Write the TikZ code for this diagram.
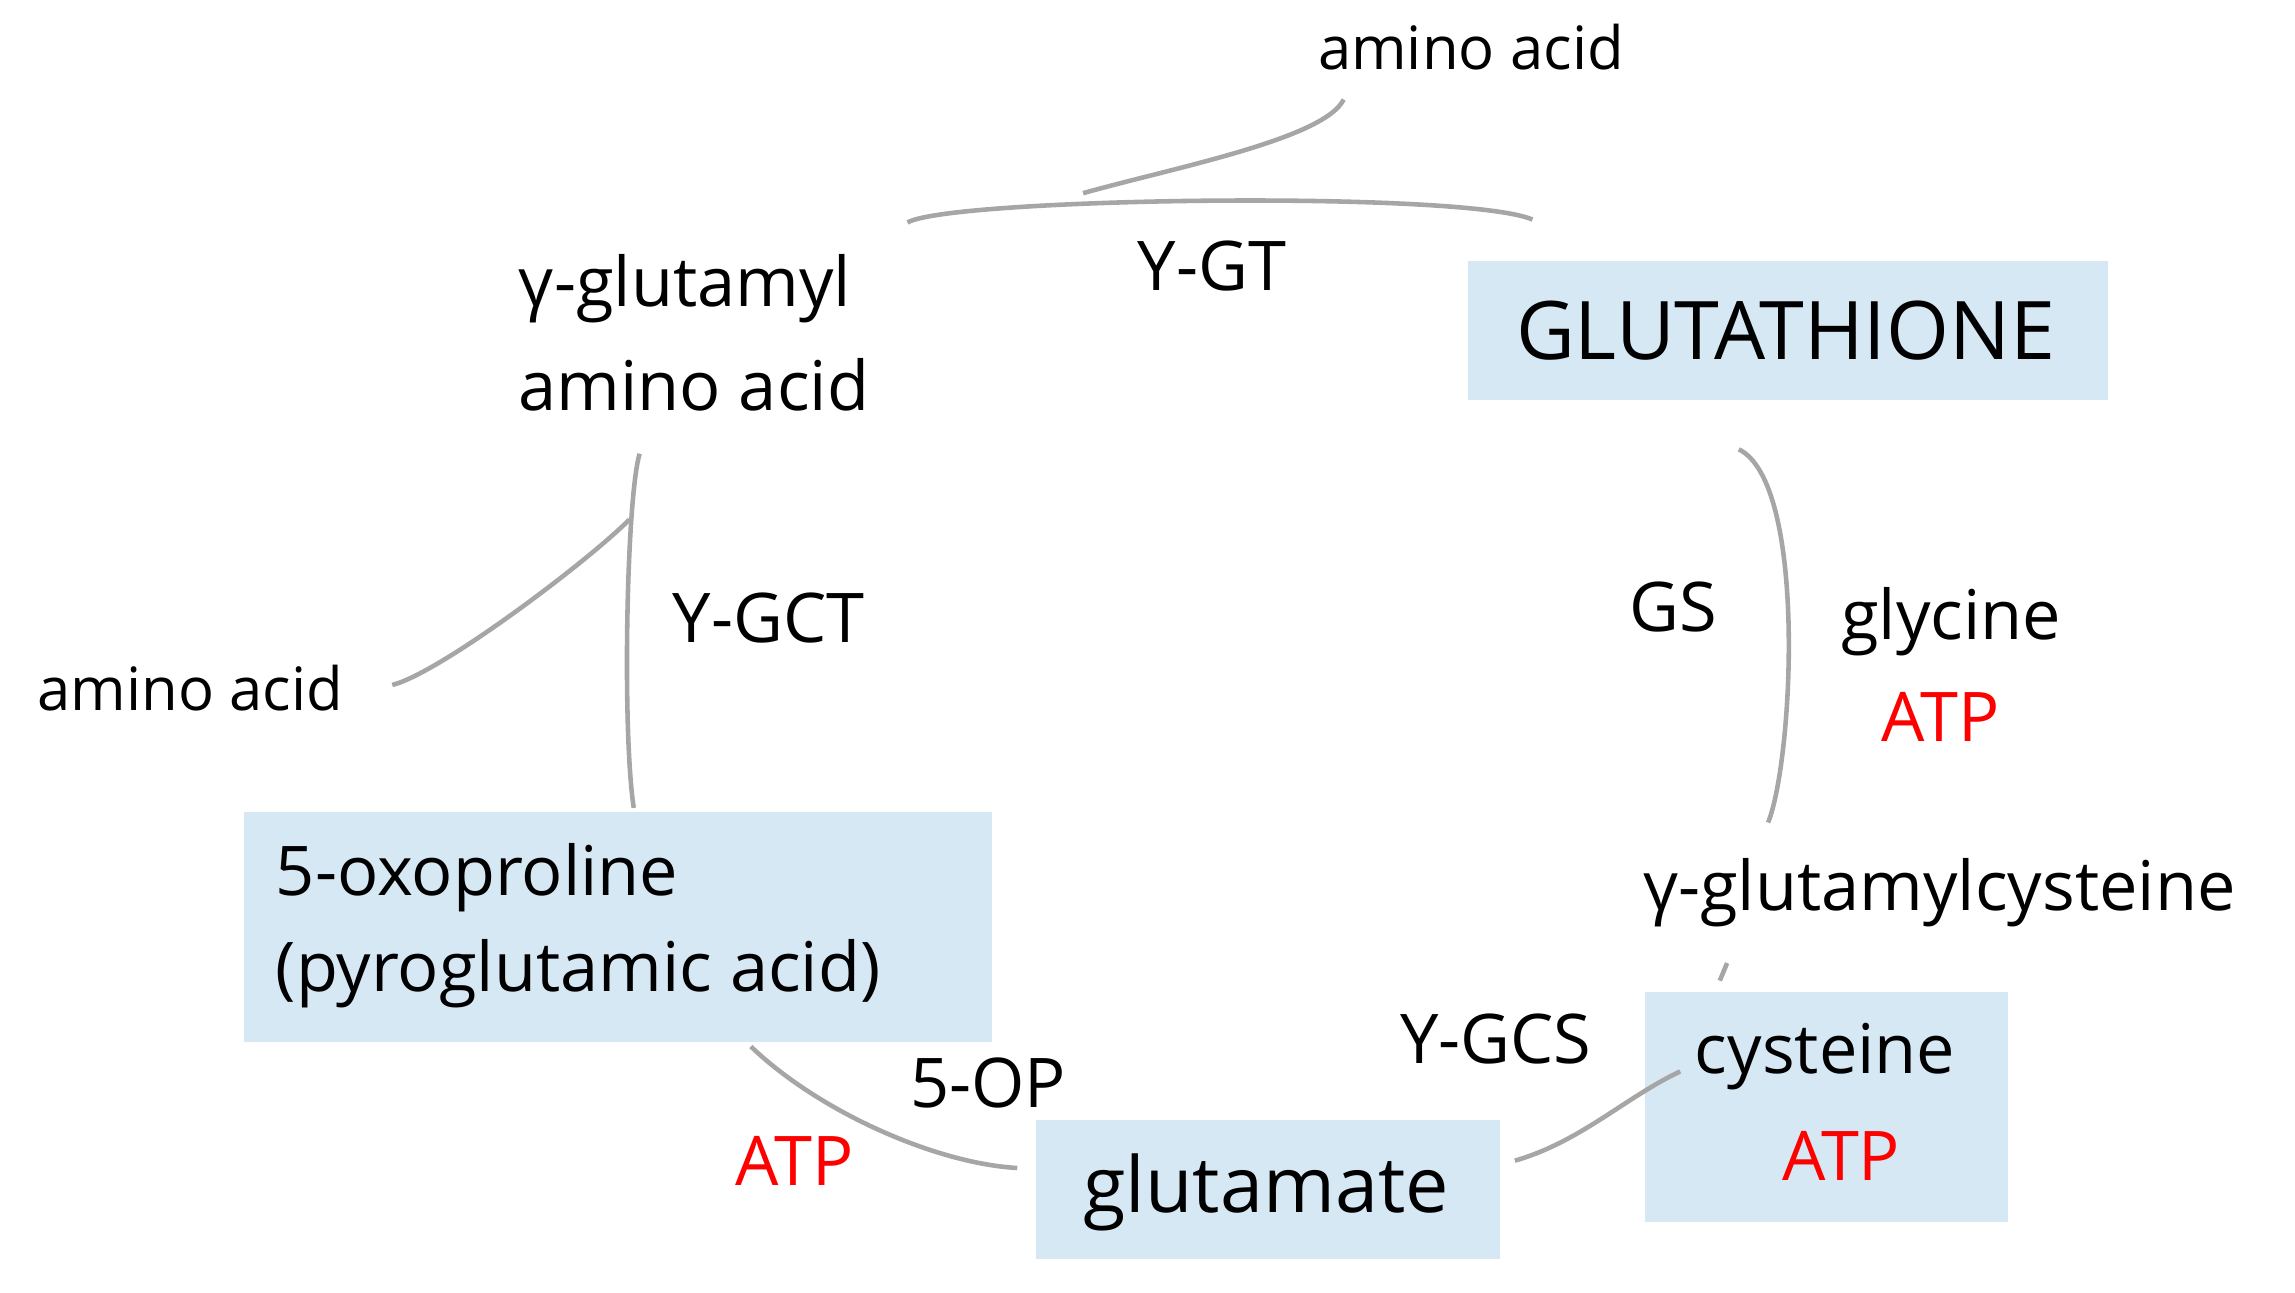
\documentclass[tikz,border=0pt]{standalone}
\usepackage{fontspec}
\setmainfont{Open Sans}
\usetikzlibrary{positioning}
\definecolor{boxblue}{RGB}{215,232,245}
\tikzset{
  lbl/.style={font=\fontsize{19.5}{23}\selectfont, inner sep=0pt},
  small/.style={font=\fontsize{17}{20}\selectfont, inner sep=0pt},
  atp/.style={lbl, text=red},
  conn/.style={draw=black!35, line width=1.3pt},
}
\begin{document}
\begin{tikzpicture}[x=0.01464cm, y=-0.01464cm]
  \useasboundingbox (0,0) rectangle (1568,883);
  % boxes
  \fill[boxblue] (1003,178) rectangle (1440,273);
  \fill[boxblue] (167,555) rectangle (678,712);
  \fill[boxblue] (708,765) rectangle (1025,860);
  \fill[boxblue] (1124,678) rectangle (1372,835);
  % texts
  \node[small] (aatop) at (1005,32) {amino acid};
  \node[lbl] (ygt) at (828,182) {Y-GT};
  \node[lbl, font=\fontsize{23}{27}\selectfont] (gsh) at (1220,226) {GLUTATHIONE};
  \node[lbl] (gglu1) at (468,197) {γ-glutamyl};
  \node[lbl] (gglu2) at (474,263) {amino acid};
  \node[lbl] (ygct) at (525,422) {Y-GCT};
  \node[small] (aaleft) at (130,470) {amino acid};
  \node[lbl] (gs) at (1143,415) {GS};
  \node[lbl] (gly) at (1333,425) {glycine};
  \node[atp] (atp1) at (1326,490) {ATP};
  \node[lbl] (gcys) at (1325,610) {γ-glutamylcysteine};
  \node[lbl, anchor=west] (oxo1) at (188,600) {5-oxoproline};
  \node[lbl, anchor=west] (oxo2) at (188,665) {(pyroglutamic acid)};
  \node[lbl] (op) at (675,740) {5-OP};
  \node[atp] (atp2) at (543,793) {ATP};
  \node[lbl, font=\fontsize{22}{26}\selectfont] (glu) at (865,815) {glutamate};
  \node[lbl] (ygcs) at (1022,710) {Y-GCS};
  \node[lbl] (cys) at (1247,722) {cysteine};
  \node[atp] (atp3) at (1258,790) {ATP};
  % connector ends
  \coordinate (t1) at (620,152);
  \coordinate (t2) at (1047,150);
  \coordinate (tb) at (740,132);
  \coordinate (ta) at (918,68);
  \coordinate (l1) at (437,310);
  \coordinate (l2) at (433,552);
  \coordinate (lb) at (430,355);
  \coordinate (la) at (268,468);
  \coordinate (r1) at (1188,307);
  \coordinate (r2) at (1208,562);
  \coordinate (b1) at (513,715);
  \coordinate (b2) at (695,798);
  \coordinate (c1) at (1035,793);
  \coordinate (c2) at (1148,732);
  % connectors
  \draw[conn] (t1) .. controls (650,135) and (1000,130) .. (t2);
  \draw[conn] (ta) .. controls (905,95) and (800,115) .. (tb);
  \draw[conn] (l1) .. controls (428,340) and (425,500) .. (l2);
  \draw[conn] (la) .. controls (300,460) and (400,385) .. (lb);
  \draw[conn] (r1) .. controls (1235,330) and (1225,520) .. (r2);
  \draw[conn] (b1) .. controls (560,760) and (640,795) .. (b2);
  \draw[conn] (c1) .. controls (1080,780) and (1110,750) .. (c2);
  \draw[conn] (1180,658) -- (1175,670);
\end{tikzpicture}
\end{document}
